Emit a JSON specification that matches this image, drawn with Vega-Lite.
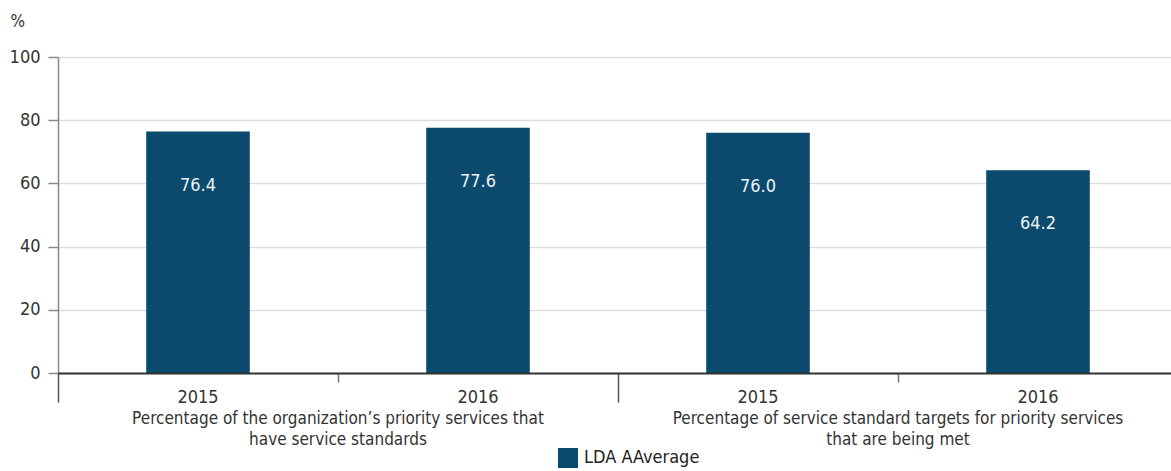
{
  "$schema": "https://vega.github.io/schema/vega-lite/v6.json",
  "width": 1113,
  "height": 316,
  "autosize": {"type": "none"},
  "padding": {"left": 58, "top": 57, "right": 0, "bottom": 98},
  "background": "white",
  "config": {
    "font": "DejaVu Sans Condensed, Roboto",
    "view": {"stroke": null}
  },
  "data": {
    "values": [
      {"key": "1|2015", "group": "Percentage of the organization’s priority services that|have service standards", "value": 76.4, "series": "LDA AAverage"},
      {"key": "2|2016", "group": "Percentage of the organization’s priority services that|have service standards", "value": 77.6, "series": "LDA AAverage"},
      {"key": "3|2015", "group": "Percentage of service standard targets for priority services|that are being met", "value": 76.0, "series": "LDA AAverage"},
      {"key": "4|2016", "group": "Percentage of service standard targets for priority services|that are being met", "value": 64.2, "series": "LDA AAverage"}
    ]
  },
  "layer": [
    {
      "layer": [
        {
          "mark": {"type": "bar"},
          "encoding": {
            "x": {
              "field": "key", "type": "nominal", "sort": null,
              "scale": {"range": [0, 1120], "paddingInner": 0.63, "paddingOuter": 0.315},
              "axis": {
                "title": null, "labelExpr": "datum.value ? split(datum.value, '|')[1] : ''", "labelAngle": 0,
                "ticks": false, "domainColor": "#333", "domainWidth": 2, "labelFontSize": 18, "labelColor": "#333",
                "labelPadding": 15, "grid": false, "zindex": 1
              }
            },
            "y": {
              "field": "value", "type": "quantitative",
              "scale": {"domain": [0, 100]},
              "axis": {
                "title": "%", "titleAngle": 0, "titleX": -48, "titleY": -44, "titleAlign": "left",
                "titleBaseline": "top", "titleFontSize": 17, "titleFontWeight": "normal", "titleColor": "#333",
                "values": [0, 20, 40, 60, 80, 100], "tickSize": 10, "tickColor": "#888", "tickWidth": 1.5,
                "domainColor": "#888", "domainWidth": 1.5, "labelFontSize": 18, "labelPadding": 8,
                "labelColor": "#333", "gridColor": "#dddddd", "gridWidth": 1.5
              }
            },
            "color": {
              "field": "series", "type": "nominal",
              "scale": {"range": ["#0b4a6c"]},
              "legend": {
                "title": null, "orient": "none", "legendX": 500, "legendY": 391,
                "symbolType": "square", "symbolSize": 400, "symbolStrokeWidth": 0,
                "labelFontSize": 18, "labelColor": "#222", "labelOffset": 6
              }
            }
          }
        },
        {
          "mark": {"type": "text", "color": "#eef3f6", "fontSize": 18, "dy": 54, "baseline": "middle"},
          "encoding": {
            "x": {"field": "key", "type": "nominal", "sort": null},
            "y": {"field": "value", "type": "quantitative"},
            "text": {"field": "value", "type": "quantitative", "format": ".1f"}
          }
        }
      ]
    },
    {
      "mark": {"type": "tick", "opacity": 0},
      "encoding": {
        "x": {
          "field": "group", "type": "nominal", "sort": null,
          "scale": {"range": [0, 1120], "paddingInner": 0, "paddingOuter": 0},
          "axis": {
            "orient": "bottom", "title": null, "labelExpr": "datum.value ? split(datum.value, '|') : ''", "labelAngle": 0,
            "tickSize": 9, "tickColor": "#777", "tickWidth": 1.5,
            "domain": false, "labelFontSize": 17, "labelColor": "#333", "labelPadding": 28,
            "labelLineHeight": 21, "labelLimit": 0, "labelOverlap": false, "labelBound": false,
            "grid": false
          }
        },
        "y": {"field": "value", "type": "quantitative"}
      }
    },
    {
      "mark": {"type": "tick", "opacity": 0},
      "encoding": {
        "x": {
          "field": "group", "type": "nominal", "sort": null,
          "scale": {"range": [0, 1120], "paddingInner": 0, "paddingOuter": 0},
          "axis": {
            "orient": "bottom", "title": null, "labels": false,
            "tickBand": "extent", "tickSize": 29, "tickColor": "#555", "tickWidth": 1.5,
            "domain": false, "grid": false
          }
        },
        "y": {"field": "value", "type": "quantitative"}
      }
    }
  ],
  "resolve": {"scale": {"x": "independent"}}
}
